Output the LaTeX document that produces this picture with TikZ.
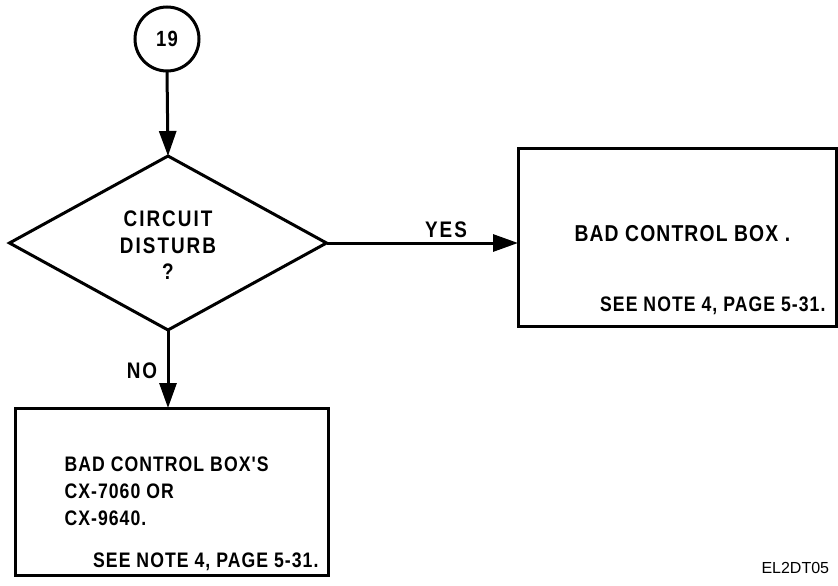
\documentclass[tikz,border=0pt]{standalone}
\usepackage{fontspec}
\setmainfont{Liberation Sans}
\newfontfamily\lblfont{Liberation Sans}[FakeStretch=0.84, LetterSpace=5]
\newfontfamily\widelblfont{Liberation Sans}[FakeStretch=0.84, LetterSpace=9]
\usetikzlibrary{shapes.geometric,arrows.meta}
\begin{document}
\begin{tikzpicture}[x=1pt,y=-1pt,
  line width=3pt,
  lbl/.style={inner sep=0pt, font=\lblfont\bfseries\fontsize{21}{24}\selectfont},
  dialbl/.style={inner sep=0pt, font=\widelblfont\bfseries\fontsize{22.5}{25}\selectfont},
  biglbl/.style={inner sep=0pt, font=\lblfont\bfseries\fontsize{23}{26}\selectfont},
  arr/.style={-{Triangle[length=25pt,width=17pt]}},
  boxnode/.style={draw, rectangle, inner sep=0pt, outer sep=0pt}]
\useasboundingbox (0,0) rectangle (838,586);
% start circle
\node[draw, circle, minimum size=64pt, inner sep=0pt, outer sep=0pt, font=\lblfont\bfseries\fontsize{22}{24}\selectfont] (c19) at (167,39) {19};
% decision
\node[draw, diamond, minimum width=317pt, minimum height=174pt, inner sep=0pt, outer sep=0pt] (dia) at (168,243) {};
\node[dialbl, anchor=base] (t1) at (168,226) {CIRCUIT};
\node[dialbl, anchor=base] (t2) at (168,253) {DISTURB};
\node[dialbl, anchor=base] (t3) at (168,279) {?};
% yes box
\node[boxnode, minimum width=318pt, minimum height=178pt] (box1) at (677,237) {};
\node[biglbl, anchor=base west] (y1) at (573,241) {BAD CONTROL BOX .};
\node[lbl, anchor=base east] (y2) at (827,311) {SEE NOTE 4, PAGE 5-31.};
% no box
\node[boxnode, minimum width=313pt, minimum height=167pt] (box2) at (171.5,491.5) {};
\node[lbl, anchor=base west] (n1) at (63,471) {BAD CONTROL BOX'S};
\node[lbl, anchor=base west] (n2) at (63,498) {CX-7060 OR};
\node[lbl, anchor=base west] (n3) at (63,525) {CX-9640.};
\node[lbl, anchor=base east] (n4) at (320,567) {SEE NOTE 4, PAGE 5-31.};
% connectors
\draw[arr] (c19.south) -- (dia.north);
\draw[arr] (dia.east) -- (dia.east -| box1.west);
\draw[arr] (dia.south) -- (dia.south |- box2.north);
\node[dialbl, anchor=base] (yes) at (446,237) {YES};
\node[dialbl, anchor=base] (no) at (142,378) {NO};
% figure id
\node[inner sep=0pt, anchor=base west, font=\fontsize{16}{18}\selectfont] (fid) at (760,573) {EL2DT05};
\end{tikzpicture}
\end{document}
